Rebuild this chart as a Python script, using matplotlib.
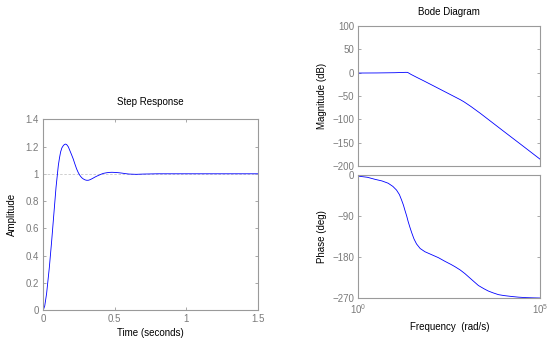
import matplotlib
matplotlib.use("Agg")
import matplotlib.pyplot as plt
from matplotlib.ticker import FixedLocator, NullLocator

# ---- data ----
step_t = [0, 0.01, 0.023, 0.042, 0.058, 0.075, 0.089, 0.105, 0.113, 0.121, 0.13,
          0.14, 0.148, 0.155, 0.163, 0.175, 0.186, 0.197, 0.209, 0.221, 0.233,
          0.245, 0.256, 0.268, 0.28, 0.293, 0.305, 0.318, 0.33, 0.345, 0.36,
          0.375, 0.39, 0.405, 0.42, 0.44, 0.46, 0.48, 0.50, 0.525, 0.55, 0.575,
          0.60, 0.625, 0.65, 0.675, 0.70, 0.75, 0.80, 0.9, 1.0, 1.2, 1.5]
step_y = [0, 0.03, 0.12, 0.31, 0.50, 0.72, 0.90, 1.06, 1.115, 1.16, 1.19,
          1.207, 1.215, 1.218, 1.215, 1.198, 1.17, 1.142, 1.11, 1.072, 1.036,
          1.008, 0.988, 0.972, 0.962, 0.955, 0.952, 0.953, 0.958, 0.966, 0.975,
          0.983, 0.99, 0.997, 1.003, 1.007, 1.01, 1.011, 1.01, 1.008, 1.005, 1.001,
          0.998, 0.997, 0.996, 0.997, 0.998, 0.999, 1.0, 1.0, 1.0, 1.0, 1.0]

mag_logw = [0, 0.5, 1.0, 1.2, 1.3, 1.355, 1.45, 1.6, 1.8, 2.0, 2.5, 2.8, 2.9,
            3.0, 3.1, 3.2, 3.35, 3.5, 4.0, 4.5, 5.0]
mag_db = [-0.8, -0.6, -0.1, 0.4, 0.7, 0.6, -3.8, -9.8, -17.6, -25.6, -45.7,
          -57.8, -62.3, -67.5, -72.8, -78.5, -87.0, -96.0, -126.0, -155.8, -185.8]

ph_logw = [0, 0.25, 0.46, 0.65, 0.82, 0.95, 1.05, 1.13, 1.19, 1.24, 1.28, 1.33,
           1.37, 1.42, 1.47, 1.53, 1.60, 1.70, 1.83, 2.0, 2.2, 2.38, 2.55, 2.66,
           2.8, 2.93, 3.1, 3.3, 3.45, 3.57, 3.7, 3.85, 4.0, 4.21, 4.4, 4.6, 4.8, 5.0]
ph_deg = [-2.5, -5, -9.5, -13, -18, -25, -33, -43, -55, -66, -77, -90,
          -102, -115, -127, -140, -151, -161, -168, -174, -181, -189, -196, -201,
          -208, -216, -228, -242, -249, -254, -258, -262, -264, -266, -267.5,
          -268.5, -269, -269.4]

step_yticks = [0, 0.2, 0.4, 0.6, 0.8, 1, 1.2, 1.4]
step_ytick_labels = ["0", "0.2", "0.4", "0.6", "0.8", "1", "1.2", "1.4"]
step_xticks = [0, 0.5, 1, 1.5]
step_xtick_labels = ["0", "0.5", "1", "1.5"]
mag_ticks = [100, 50, 0, -50, -100, -150, -200]
ph_ticks = [0, -90, -180, -270]
freq_ticks = [1, 1e5]
freq_tick_labels = ["$10^0$", "$10^5$"]

# ---- style ----
plt.rcParams['font.family'] = ['Liberation Sans', 'DejaVu Sans']
plt.rcParams['mathtext.fontset'] = 'custom'
plt.rcParams['mathtext.rm'] = 'Liberation Sans'
plt.rcParams['mathtext.it'] = 'Liberation Sans'
FS = 7
SPINE = '#9a9a9a'
TICKC = '#7a7a7a'
BLUE = '#0000ff'
LW = 0.6

fig = plt.figure(figsize=(5.48, 3.38), dpi=100)
fig.patch.set_facecolor('white')


def style(ax):
    for s in ax.spines.values():
        s.set_color(SPINE)
        s.set_linewidth(0.8)
    ax.tick_params(direction='in', length=2.5, width=0.6, colors=SPINE,
                   labelcolor=TICKC, labelsize=FS, top=True, right=True, pad=3)


# Step response
ax1 = fig.add_axes([43.3 / 548, 1 - 310 / 338, (257.7 - 43.3) / 548, (310 - 119.3) / 338])
ax1.plot([0, 1.5], [1, 1], linestyle=(0, (3, 2)), color='#c8c8c8', lw=0.6)
ax1.plot(step_t, step_y, color=BLUE, lw=LW)
ax1.set_xlim(0, 1.5)
ax1.set_ylim(0, 1.4)
ax1.set_xticks(step_xticks)
ax1.set_xticklabels(step_xtick_labels)
ax1.set_yticks(step_yticks)
ax1.set_yticklabels(step_ytick_labels)
style(ax1)
ax1.set_title("Step Response", fontsize=FS, pad=10)
ax1.set_xlabel("Time (seconds)", fontsize=FS, labelpad=3)
ax1.set_ylabel("Amplitude", fontsize=FS, labelpad=6)

# Bode magnitude
ax2 = fig.add_axes([358.3 / 548, 1 - 166 / 338, 182 / 548, 140 / 338])
ax2.plot([10 ** v for v in mag_logw], mag_db, color=BLUE, lw=LW)
ax2.set_xscale('log')
ax2.set_xlim(1, 1e5)
ax2.set_ylim(-200, 100)
ax2.set_yticks(mag_ticks)
ax2.xaxis.set_major_locator(FixedLocator(freq_ticks))
ax2.xaxis.set_minor_locator(NullLocator())
ax2.set_xticklabels([])
style(ax2)
ax2.set_title("Bode Diagram", fontsize=FS, pad=8)
ax2.set_ylabel("Magnitude (dB)", fontsize=FS, labelpad=4)

# Bode phase
ax3 = fig.add_axes([358.3 / 548, 1 - 298.3 / 338, 182 / 548, 123.3 / 338])
ax3.plot([10 ** v for v in ph_logw], ph_deg, color=BLUE, lw=LW)
ax3.set_xscale('log')
ax3.set_xlim(1, 1e5)
ax3.set_ylim(-270, 0)
ax3.set_yticks(ph_ticks)
ax3.xaxis.set_major_locator(FixedLocator(freq_ticks))
ax3.xaxis.set_minor_locator(NullLocator())
ax3.set_xticklabels(freq_tick_labels)
style(ax3)
ax3.set_xlabel("Frequency  (rad/s)", fontsize=FS, labelpad=4)
ax3.set_ylabel("Phase (deg)", fontsize=FS, labelpad=4)

fig.savefig("out.png", dpi=100, facecolor='white')
